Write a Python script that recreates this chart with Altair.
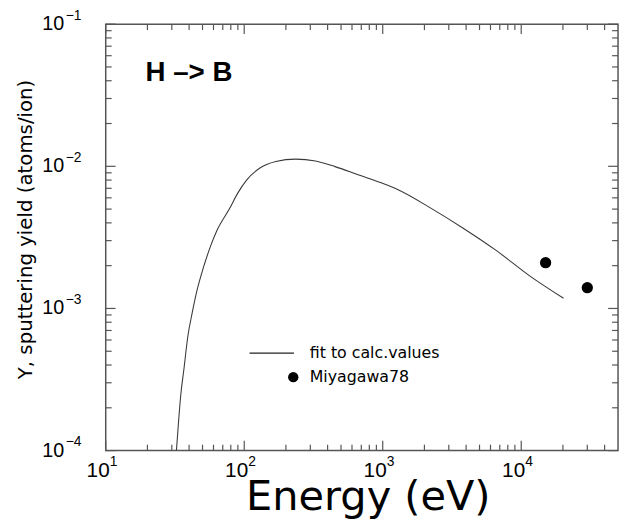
import altair as alt
import pandas as pd

# ---- data ----
energy = [32.4, 33.3, 34.8, 36.7, 39.2, 42.1, 45.7, 50.9, 56.8, 63.4, 78, 90, 104, 129,
          169, 235, 327, 453, 664, 1028, 1280, 2207, 3810, 6590, 11370, 20200]
yield_fit = [1.0e-4, 1.44e-4, 2.45e-4, 3.75e-4, 6.4e-4, 9.3e-4, 1.35e-3, 1.96e-3, 2.70e-3,
             3.52e-3, 5.0e-3, 6.5e-3, 8.0e-3, 9.68e-3, 1.08e-2, 1.124e-2, 1.09e-2, 9.95e-3,
             8.71e-3, 7.5e-3, 6.86e-3, 5.1e-3, 3.67e-3, 2.56e-3, 1.71e-3, 1.18e-3]
exp_energy = [15000, 30000]
exp_yield = [2.1e-3, 1.4e-3]

x_major = [10, 100, 1000, 10000]
x_exp_labels = ["1", "2", "3", "4"]
x_minor = [k * 10 ** d for d in range(1, 5) for k in range(2, 10) if k * 10 ** d < 50000]
y_major = [1e-4, 1e-3, 1e-2, 1e-1]
y_exp_labels = ["\u22124", "\u22123", "\u22122", "\u22121"]
y_minor = [k * 10.0 ** d for d in range(-4, -1) for k in range(2, 10)]

legend_labels = ["fit to calc.values", "Miyagawa78"]
panel_label = "H \u2013> B"
x_title = "Energy (eV)"
y_title = "Y, sputtering yield (atoms/ion)"

W, H = 519, 432
FRAME = "#555555"
FONT = "Liberation Sans"
XMIN, XMAX, YMIN, YMAX = 10, 50000, 1e-4, 1e-1
PX_PER_DEC_X = W / 3.69897
PX_PER_DEC_Y = H / 3.0

xscale = alt.Scale(type="log", domain=[XMIN, XMAX], nice=False)
yscale = alt.Scale(type="log", domain=[YMIN, YMAX], nice=False)

df_fit = pd.DataFrame({"E": energy, "Y": yield_fit})
df_exp = pd.DataFrame({"E": exp_energy, "Y": exp_yield})

curve = alt.Chart(df_fit).mark_line(color="#3a3a3a", strokeWidth=1.1, clip=True,
                                    interpolate="monotone").encode(
    x=alt.X("E:Q", scale=xscale, axis=None),
    y=alt.Y("Y:Q", scale=yscale, axis=None),
)

points = alt.Chart(df_exp).mark_circle(size=130, color="black", opacity=1).encode(
    x=alt.X("E:Q", scale=xscale, axis=None),
    y=alt.Y("Y:Q", scale=yscale, axis=None),
)


def xticks(vals, length, top):
    f = 10 ** (length / PX_PER_DEC_Y)
    y0 = YMAX if top else YMIN
    y1 = YMAX / f if top else YMIN * f
    return alt.Chart(pd.DataFrame({"E": vals})).mark_rule(color=FRAME, strokeWidth=1.2).encode(
        x=alt.X("E:Q", scale=xscale, axis=None),
        y=alt.datum(y0, scale=yscale, axis=None), y2=alt.datum(y1))


def yticks(vals, length, right):
    f = 10 ** (length / PX_PER_DEC_X)
    x0 = XMAX if right else XMIN
    x1 = XMAX / f if right else XMIN * f
    return alt.Chart(pd.DataFrame({"Y": vals})).mark_rule(color=FRAME, strokeWidth=1.2).encode(
        y=alt.Y("Y:Q", scale=yscale, axis=None),
        x=alt.datum(x0, scale=xscale, axis=None), x2=alt.datum(x1))


tick_layers = [
    xticks(x_major, 10, False), xticks(x_minor, 6, False),
    xticks(x_major, 10, True), xticks(x_minor, 6, True),
    yticks(y_major, 10, False), yticks(y_minor, 6, False),
    yticks(y_major, 10, True), yticks(y_minor, 6, True),
]

df_xlab = pd.DataFrame({"E": x_major, "base": ["10"] * 4, "exp": x_exp_labels})
df_ylab = pd.DataFrame({"Y": y_major, "base": ["10"] * 4, "exp": y_exp_labels})

x_base = alt.Chart(df_xlab).mark_text(align="right", baseline="alphabetic", dx=4,
                                      font=FONT, fontSize=21, color="black").encode(
    x=alt.X("E:Q", scale=xscale, axis=None), y=alt.value(H + 27), text="base:N")
x_sup = alt.Chart(df_xlab).mark_text(align="left", baseline="alphabetic", dx=4,
                                     font=FONT, fontSize=14, color="black").encode(
    x=alt.X("E:Q", scale=xscale, axis=None), y=alt.value(H + 16), text="exp:N")
y_base = alt.Chart(df_ylab).mark_text(align="right", baseline="alphabetic", dy=6,
                                      font=FONT, fontSize=20, color="black").encode(
    y=alt.Y("Y:Q", scale=yscale, axis=None), x=alt.value(-42), text="base:N")
y_sup = alt.Chart(df_ylab).mark_text(align="left", baseline="alphabetic", dy=-4.7,
                                     font=FONT, fontSize=14, color="black").encode(
    y=alt.Y("Y:Q", scale=yscale, axis=None), x=alt.value(-40.5), text="exp:N")

# ---- axis titles ----
titles = pd.DataFrame({"t": [x_title, y_title]})
x_ttl = alt.Chart(titles.iloc[[0]]).mark_text(
    align="center", baseline="alphabetic", font="DejaVu Sans", fontSize=42,
    color="black").encode(x=alt.value(266), y=alt.value(H + 60), text="t:N")
y_ttl = alt.Chart(titles.iloc[[1]]).mark_text(
    align="center", baseline="middle", font="DejaVu Sans", fontSize=20, angle=270,
    color="black").encode(x=alt.value(-81), y=alt.value(208), text="t:N")

# ---- legend and panel label ----
leg_df = pd.DataFrame({"label": legend_labels})
leg_line = alt.Chart(leg_df.iloc[[0]]).mark_rule(color="#222222", strokeWidth=1.2).encode(
    x=alt.value(145.7), x2=alt.value(190.7), y=alt.value(333.3))
leg_dot = alt.Chart(leg_df.iloc[[1]]).mark_circle(size=110, color="black", opacity=1).encode(
    x=alt.value(190), y=alt.value(357.6))
leg_t1 = alt.Chart(leg_df.iloc[[0]]).mark_text(align="left", baseline="alphabetic",
                                               font="DejaVu Sans", fontSize=16, color="black").encode(
    x=alt.value(206.7), y=alt.value(338.6), text="label:N")
leg_t2 = alt.Chart(leg_df.iloc[[1]]).mark_text(align="left", baseline="alphabetic",
                                               font="DejaVu Sans", fontSize=16, color="black").encode(
    x=alt.value(206.7), y=alt.value(362.6), text="label:N")
panel = alt.Chart(pd.DataFrame({"t": [panel_label]})).mark_text(
    align="left", baseline="alphabetic", font=FONT, fontSize=28, fontWeight="bold",
    color="black").encode(x=alt.value(40.4), y=alt.value(57.6), text="t:N")

chart = alt.layer(
    curve, points, *tick_layers, x_base, x_sup, y_base, y_sup, x_ttl, y_ttl,
    leg_line, leg_dot, leg_t1, leg_t2, panel,
).properties(
    width=W, height=H,
    autosize=alt.AutoSizeParams(type="none"),
    padding={"left": 99, "top": 13, "right": 2, "bottom": 72},
    background="white",
).configure_view(stroke=FRAME, strokeWidth=1.5)

chart.save("out.html", embed_options={"renderer": "svg", "actions": False})
